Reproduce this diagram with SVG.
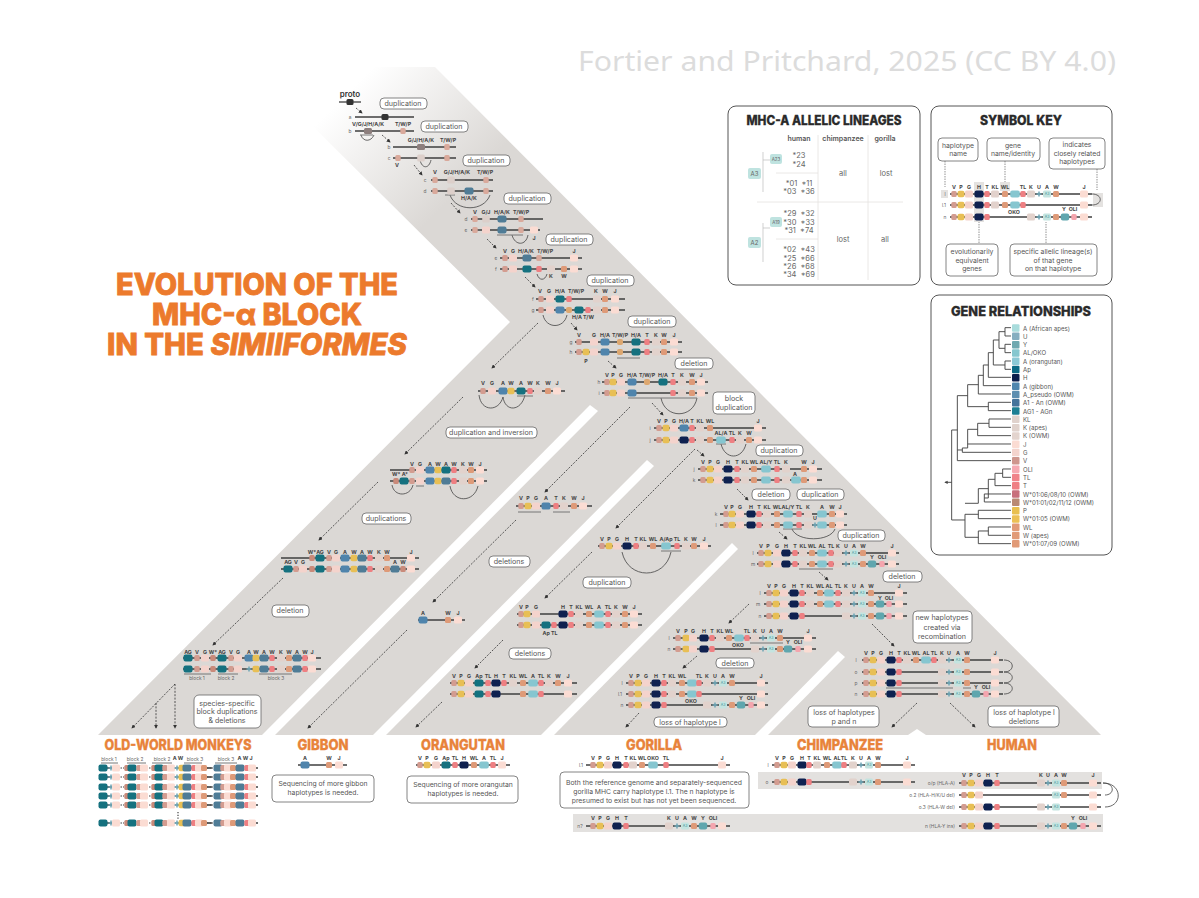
<svg xmlns="http://www.w3.org/2000/svg" width="1199" height="898" viewBox="0 0 1199 898">
<style>
text{font-family:Inter,"Liberation Sans",sans-serif}
.gl{font-size:5.3px;font-weight:700;fill:#444;text-anchor:middle}
.rl{font-size:4.800px;fill:#666;text-anchor:middle}
.pl{fill:#fff;stroke:#666;stroke-width:.8}
.pt{font-size:7.100px;fill:#555;text-anchor:middle}
.pt2{font-size:6.800px;fill:#555;text-anchor:middle}
.ln{stroke:#3f3f3f;stroke-width:1.300;fill:none}
.ar{stroke:#333;stroke-width:.8;stroke-dasharray:2 1.400;fill:none;marker-end:url(#ah)}
.arc{stroke:#444;stroke-width:.8;fill:none}
.bar{stroke:#777;stroke-width:1;fill:none}
.sec{font-size:14px;font-weight:800;fill:#e8833a;stroke:#e8833a;stroke-width:.35;text-anchor:middle}
.ttl{font-size:13px;font-weight:800;fill:#2a2a2a;stroke:#2a2a2a;stroke-width:.3;text-anchor:middle}
.pan{fill:#fff;stroke:#555;stroke-width:1}
.tb{font-size:7.500px;fill:#666;text-anchor:middle;white-space:pre}
.tbh{font-size:7px;font-weight:600;fill:#555;text-anchor:middle}
.grid{stroke:#e4e2e0;stroke-width:.8;fill:none}
.lg{font-size:6.100px;fill:#555}
.tr{stroke:#444;stroke-width:2.800;fill:none}
.main{font-size:29.500px;font-weight:800;fill:#ec7a2c;stroke:#ec7a2c;stroke-width:.8;text-anchor:middle}
</style>
<defs>
<linearGradient id="fade" gradientUnits="userSpaceOnUse" x1="270" y1="170" x2="375" y2="275"><stop offset="0" stop-color="#dbd8d5" stop-opacity="0"/><stop offset="1" stop-color="#dbd8d5"/></linearGradient>
<marker id="ah" markerWidth="5" markerHeight="5" refX="4" refY="2.500" orient="auto"><path d="M0 0L5 2.500L0 5z" fill="#333"/></marker>
<rect id="V" x="-2.700" y="-3" width="5.400" height="6" rx="1.500" fill="#d39c90"/>
<rect id="P" x="-3.500" y="-3.200" width="7" height="6.400" rx="2" fill="#e8bf55"/>
<rect id="G" x="-4" y="-3.500" width="8" height="7" rx="1.500" fill="#f4d3cc"/>
<rect id="H" x="-4.500" y="-3.500" width="9" height="7" rx="2" fill="#0f2150"/>
<rect id="T" x="-2.700" y="-3" width="5.400" height="6" rx="1.500" fill="#ee7f82"/>
<rect id="KL" x="-4" y="-3.500" width="8" height="7" rx="1.500" fill="#e2d2cc"/>
<rect id="W" x="-3" y="-3" width="6" height="6" rx="1.500" fill="#de9a78"/>
<rect id="AL" x="-4.800" y="-3.500" width="9.600" height="7" rx="2" fill="#86c6d0"/>
<rect id="J" x="-4" y="-3.500" width="8" height="7" rx="1.500" fill="#fbdcd3"/>
<rect id="Y" x="-4.200" y="-3.500" width="8.400" height="7" rx="2" fill="#5fa6ae"/>
<rect id="OL" x="-2.700" y="-3" width="5.400" height="6" rx="1.500" fill="#f4a5ae"/>
<rect id="B" x="-4.500" y="-3.500" width="9" height="7" rx="2" fill="#4f84ac"/>
<rect id="BD" x="-4.500" y="-3.500" width="9" height="7" rx="2" fill="#4f7c96"/>
<rect id="TE" x="-4.500" y="-3.500" width="9" height="7" rx="2" fill="#15717f"/>
<rect id="Q" x="-3" y="-3" width="6" height="6" rx="2" fill="#dda76f"/>
<rect id="D" x="-3.500" y="-3" width="7" height="6" rx="1.500" fill="#333"/>
<rect id="M" x="-4" y="-3" width="8" height="6" rx="1.500" fill="#8d7f7e"/>
<rect id="PA" x="-3.800" y="-3.500" width="7.600" height="7" rx="1.500" fill="#dccfca"/>
<rect id="Z" x="-2.700" y="-3" width="5.400" height="6" rx="1.500" fill="#d9a99b"/>
<rect id="R" x="-2.700" y="-3" width="5.400" height="6" rx="1.500" fill="#c98a7a"/>
<path id="U" d="M-2.500 0H2.500M0-2.500V2.500" stroke="#6ea4b4" stroke-width="1.500" fill="none"/>
<g id="A3"><rect x="-4" y="-3.500" width="8" height="7" rx="1.500" fill="#c3e4e0"/><text y="1.300" text-anchor="middle" font-size="3.500" fill="#3d8f97">A3</text></g>
<g id="owm"><path class="ln" d="M99 0H118M178 0H193M207 0H212M252 0H258" stroke-width="1"/><path d="M118 0H124M144 0H151M172 0H178M207 0H213" stroke="#3f3f3f" stroke-dasharray="1.500 1" fill="none"/><use href="#TE" x="103"/><use href="#U" x="111"/><use href="#J" x="116"/><use href="#R" x="127"/><use href="#TE" x="132"/><use href="#V" x="139"/><use href="#J" x="144"/><use href="#R" x="154"/><use href="#TE" x="159"/><use href="#V" x="165"/><use href="#J" x="171"/><use href="#U" x="177"/><use href="#P" x="182"/><use href="#BD" x="187"/><use href="#T" x="194"/><use href="#J" x="199"/><use href="#W" x="204"/><use href="#BD" x="218"/><use href="#V" x="223"/><use href="#J" x="228"/><use href="#W" x="233"/><use href="#BD" x="240"/><use href="#T" x="247"/><use href="#J" x="252"/></g>
</defs>
<rect width="1199" height="898" fill="#fff"/>

<g id="background">
<polygon points="253,67 435,67 1101,735 926,735 917,729 908,735 98,735 510,322" fill="url(#fade)"/>
<polygon points="262,735 275,735 598,411 590,405" fill="#fff"/>
<polygon points="373,735 386,735 654,466 647,460" fill="#fff"/>
<polygon points="541,735 554,735 738,549 732,543" fill="#fff"/>
<polygon points="755,735 768,735 845,657 838,651" fill="#fff"/>
<rect x="758" y="772" width="344" height="17" fill="#e3e1df"/>
<rect x="573" y="814" width="530" height="18" fill="#e3e1df"/>
</g>

<g id="credit"><text x="847" y="71" font-size="28" text-anchor="middle" fill="#dcdcdc" style="font-family:'Noto Sans',sans-serif" textLength="538" lengthAdjust="spacingAndGlyphs">Fortier and Pritchard, 2025 (CC BY 4.0)</text></g>
<g id="title">
<text class="main" x="257" y="295" textLength="282" lengthAdjust="spacingAndGlyphs">EVOLUTION OF THE</text>
<text class="main" x="257" y="325" textLength="210" lengthAdjust="spacingAndGlyphs">MHC-α BLOCK</text>
<text class="main" x="257" y="355" textLength="300" lengthAdjust="spacingAndGlyphs">IN THE <tspan font-style="italic">SIMIIFORMES</tspan></text>
</g>

<g id="connectors">
<path class="ar" d="M356 108L362 113"/><path class="ar" d="M382 135L390 142"/><path class="ar" d="M414 165L422 175"/><path class="ar" d="M451 203L460 213"/><path class="ar" d="M487 239L496 248"/><path class="ar" d="M525 277L535 287"/><path class="ar" d="M571 323L577 330"/><path class="ar" d="M608 361L616 368"/><path class="ar" d="M652 403L663 415"/><path class="ar" d="M697 450L704 456"/><path class="ar" d="M737 489L748 500"/><path class="ar" d="M779 532L787 539"/><path class="ar" d="M819 572L828 580"/><path class="ar" d="M749 604L729 623"/><path class="ar" d="M697 656L683 668"/><path class="ar" d="M639 713L626 727"/><path class="ar" d="M872 624L894 646"/><path class="ar" d="M917 703L892 727"/><path class="ar" d="M950 703L975 727"/>
<path class="ar" d="M538 323L492 368"/><path class="ar" d="M463 397L405 454"/><path class="ar" d="M378 482L319 540"/><path class="ar" d="M283 578L213 645"/><path class="ar" d="M175 684L132 728"/><path class="ar" d="M156 703V728"/><path class="ar" d="M175 684V728"/>
<path class="ar" d="M630 407L545 492"/><path class="ar" d="M516 520L433 602"/><path class="ar" d="M407 630L308 728"/><path class="ar" d="M695 449L616 528"/><path class="ar" d="M592 552L545 598"/><path class="ar" d="M503 640L475 668"/><path class="ar" d="M442 702L416 727"/>
<path class="arc" d="M361 135c2 7 10 7 13 0M420 160c2 9 9 9 11 0M450 195c6 17 34 17 40 0M512 235c3 11 14 11 16 0M537 274c2 7 8 7 10 0M543 315c3 14 21 14 24 0M661 398c4 21 32 21 36 0M721 444c4 16 21 16 25 0M792 529c5 13 38 13 43 0M622 552c6 28 43 28 49 0M479 395c2 17 20 17 24 2M503 397c2 15 18 15 22-2M392 485c2 12 18 12 21 0M450 486c3 17 24 17 28 0"/>
<path class="bar" d="M360 135H373M445 195H455M497 235H523M628 398H697M617 358H640M716 444H726M783 529H802M661 551H681M518 512H541M553 512H570M799 569H833M750 643H783M886 688H953M963 688H971M184 674H211M218 674H238M259 674H292M517 396H533M416 486H424"/>
<path class="arc" d="M1004 660c11 0 11 12 0 12M1004 672c11 0 11 11 0 11M1004 683c11 0 11 11 0 11M1103 783c12 0 12 12 2 12M1103 783c20 0 20 24 2 24"/>
</g>

<g id="s-proto"><text x="350" y="97" font-size="8" font-weight="600" fill="#333" text-anchor="middle">proto</text><path class="ln" d="M339 102H361"/><use href="#D" x="350" y="102"/></g>
<g id="s-ab"><text class="rl" x="350" y="119">a</text><text class="rl" x="350" y="133">b</text><path class="ln" d="M355 117H414M355 131H414"/><use href="#D" x="385" y="117"/><use href="#M" x="368" y="131"/><use href="#Z" x="403" y="131"/><text class="gl" x="368" y="126">V/G/J/H/A/K</text><text class="gl" x="403" y="126">T/W/P</text></g>
<g id="s-bc"><text class="rl" x="389" y="149">b</text><text class="rl" x="389" y="160">c</text><path class="ln" d="M393 147H456M393 158H456"/><use href="#M" x="421" y="147"/><use href="#Z" x="447" y="147"/><use href="#Z" x="398" y="158"/><use href="#PA" x="421" y="158"/><use href="#Z" x="447" y="158"/><text class="gl" x="421" y="142">G/J/H/A/K</text><text class="gl" x="448" y="142">T/W/P</text><text class="gl" x="397" y="167">V</text></g>
<g id="s-cd"><text class="rl" x="425" y="182">c</text><text class="rl" x="425" y="193">d</text><path class="ln" d="M431 180H493M431 191H493"/><use href="#Z" x="435" y="180"/><use href="#PA" x="451" y="180"/><use href="#Z" x="486" y="180"/><use href="#Z" x="435" y="191"/><use href="#PA" x="451" y="191"/><use href="#BD" x="469" y="191"/><use href="#Z" x="486" y="191"/><text class="gl" x="435" y="174">V</text><text class="gl" x="457" y="174">G/J/H/A/K</text><text class="gl" x="485" y="174">T/W/P</text><text class="gl" x="469" y="200">H/A/K</text></g>
<g id="s-de"><text class="rl" x="466" y="221">d</text><text class="rl" x="466" y="232">e</text><path class="ln" d="M471 219H543M471 230H540"/><use href="#Z" x="475" y="219"/><use href="#PA" x="486" y="219"/><use href="#BD" x="502" y="219"/><use href="#Z" x="521" y="219"/><use href="#Z" x="475" y="230"/><use href="#G" x="486" y="230"/><use href="#BD" x="502" y="230"/><use href="#Z" x="521" y="230"/><use href="#J" x="534" y="230"/><text class="gl" x="475" y="214">V</text><text class="gl" x="486" y="214">G/J</text><text class="gl" x="502" y="214">H/A/K</text><text class="gl" x="521" y="214">T/W/P</text><text class="gl" x="534" y="240">J</text></g>
<g id="s-ef"><text class="rl" x="496" y="260">e</text><text class="rl" x="496" y="271">f</text><path class="ln" d="M500 258H582M500 269H582"/><use href="#V" x="505" y="258"/><use href="#G" x="513" y="258"/><use href="#BD" x="527" y="258"/><use href="#Z" x="539" y="258"/><use href="#J" x="574" y="258"/><use href="#V" x="505" y="269"/><use href="#G" x="513" y="269"/><use href="#TE" x="527" y="269"/><use href="#T" x="539" y="269"/><use href="#KL" x="551" y="269"/><use href="#W" x="564" y="269"/><use href="#J" x="574" y="269"/><text class="gl" x="505" y="253">V</text><text class="gl" x="513" y="253">G</text><text class="gl" x="526" y="253">H/A/K</text><text class="gl" x="545" y="253">T/W/P</text><text class="gl" x="574" y="253">J</text><text class="gl" x="551" y="278">K</text><text class="gl" x="564" y="278">W</text></g>
<g id="s-fg"><text class="rl" x="533" y="301">f</text><text class="rl" x="533" y="312">g</text><path class="ln" d="M536 299H625M536 310H625"/><use href="#V" x="541" y="299"/><use href="#G" x="550" y="299"/><use href="#TE" x="560" y="299"/><use href="#T" x="569" y="299"/><use href="#KL" x="597" y="299"/><use href="#W" x="605" y="299"/><use href="#J" x="615" y="299"/><use href="#V" x="541" y="310"/><use href="#G" x="550" y="310"/><use href="#B" x="560" y="310"/><use href="#Q" x="569" y="310"/><use href="#TE" x="579" y="310"/><use href="#T" x="588" y="310"/><use href="#KL" x="597" y="310"/><use href="#W" x="605" y="310"/><use href="#J" x="615" y="310"/><text class="gl" x="540" y="293">V</text><text class="gl" x="549" y="293">G</text><text class="gl" x="560" y="293">H/A</text><text class="gl" x="576" y="293">T/W/P</text><text class="gl" x="596" y="293">K</text><text class="gl" x="605" y="293">W</text><text class="gl" x="615" y="293">J</text><text class="gl" x="583" y="319">H/A T/W</text></g>
<g id="s-gh"><text class="rl" x="571" y="344">g</text><text class="rl" x="571" y="354">h</text><path class="ln" d="M575 342H682M575 352H682"/><use href="#V" x="579" y="342"/><use href="#G" x="594" y="342"/><use href="#B" x="605" y="342"/><use href="#Q" x="620" y="342"/><use href="#TE" x="636" y="342"/><use href="#T" x="647" y="342"/><use href="#KL" x="656" y="342"/><use href="#W" x="664" y="342"/><use href="#J" x="674" y="342"/><use href="#V" x="579" y="352"/><use href="#P" x="586" y="352"/><use href="#G" x="594" y="352"/><use href="#B" x="605" y="352"/><use href="#Q" x="620" y="352"/><use href="#TE" x="636" y="352"/><use href="#T" x="647" y="352"/><use href="#KL" x="656" y="352"/><use href="#W" x="664" y="352"/><use href="#J" x="674" y="352"/><text class="gl" x="579" y="337">V</text><text class="gl" x="594" y="337">G</text><text class="gl" x="605" y="337">H/A</text><text class="gl" x="620" y="337">T/W/P</text><text class="gl" x="636" y="337">H/A</text><text class="gl" x="647" y="337">T</text><text class="gl" x="656" y="337">K</text><text class="gl" x="664" y="337">W</text><text class="gl" x="674" y="337">J</text><text class="gl" x="586" y="363">P</text></g>
<g id="s-hi"><text class="rl" x="599" y="384">h</text><text class="rl" x="599" y="395">i</text><path class="ln" d="M602 382H708M602 393H708"/><use href="#V" x="607" y="382"/><use href="#P" x="613" y="382"/><use href="#G" x="621" y="382"/><use href="#B" x="632" y="382"/><use href="#Q" x="647" y="382"/><use href="#TE" x="663" y="382"/><use href="#T" x="673" y="382"/><use href="#KL" x="682" y="382"/><use href="#W" x="692" y="382"/><use href="#J" x="701" y="382"/><use href="#V" x="607" y="393"/><use href="#P" x="613" y="393"/><use href="#G" x="621" y="393"/><use href="#B" x="632" y="393"/><use href="#T" x="673" y="393"/><use href="#KL" x="682" y="393"/><use href="#W" x="692" y="393"/><use href="#J" x="701" y="393"/><text class="gl" x="607" y="377">V</text><text class="gl" x="613" y="377">P</text><text class="gl" x="621" y="377">G</text><text class="gl" x="632" y="377">H/A</text><text class="gl" x="647" y="377">T/W/P</text><text class="gl" x="663" y="377">H/A</text><text class="gl" x="673" y="377">T</text><text class="gl" x="682" y="377">K</text><text class="gl" x="692" y="377">W</text><text class="gl" x="701" y="377">J</text></g>
<g id="s-ij"><text class="rl" x="650" y="430">i</text><text class="rl" x="650" y="442">j</text><path class="ln" d="M654 428H766M654 440H766"/><use href="#V" x="659" y="428"/><use href="#P" x="666" y="428"/><use href="#G" x="674" y="428"/><use href="#B" x="684" y="428"/><use href="#T" x="692" y="428"/><use href="#KL" x="700" y="428"/><use href="#W" x="710" y="428"/><use href="#J" x="758" y="428"/><use href="#V" x="659" y="440"/><use href="#P" x="666" y="440"/><use href="#G" x="674" y="440"/><use href="#H" x="684" y="440"/><use href="#T" x="692" y="440"/><use href="#KL" x="700" y="440"/><use href="#W" x="710" y="440"/><use href="#AL" x="721" y="440"/><use href="#T" x="732" y="440"/><use href="#KL" x="740" y="440"/><use href="#W" x="749" y="440"/><use href="#J" x="758" y="440"/><text class="gl" x="659" y="423">V</text><text class="gl" x="666" y="423">P</text><text class="gl" x="674" y="423">G</text><text class="gl" x="684" y="423">H/A</text><text class="gl" x="692" y="423">T</text><text class="gl" x="700" y="423">KL</text><text class="gl" x="710" y="423">WL</text><text class="gl" x="758" y="423">J</text><text class="gl" x="721" y="435">AL/A</text><text class="gl" x="732" y="435">TL</text><text class="gl" x="740" y="435">K</text><text class="gl" x="749" y="435">W</text></g>
<g id="s-jk"><text class="rl" x="694" y="471">j</text><text class="rl" x="694" y="482">k</text><path class="ln" d="M698 469H822M698 480H822"/><use href="#V" x="703" y="469"/><use href="#P" x="710" y="469"/><use href="#G" x="718" y="469"/><use href="#H" x="728" y="469"/><use href="#T" x="737" y="469"/><use href="#KL" x="745" y="469"/><use href="#W" x="754" y="469"/><use href="#AL" x="766" y="469"/><use href="#T" x="777" y="469"/><use href="#KL" x="786" y="469"/><use href="#W" x="804" y="469"/><use href="#J" x="813" y="469"/><use href="#V" x="703" y="480"/><use href="#P" x="710" y="480"/><use href="#G" x="718" y="480"/><use href="#H" x="728" y="480"/><use href="#T" x="737" y="480"/><use href="#KL" x="745" y="480"/><use href="#W" x="754" y="480"/><use href="#AL" x="766" y="480"/><use href="#T" x="777" y="480"/><use href="#KL" x="786" y="480"/><use href="#AL" x="796" y="480"/><use href="#W" x="804" y="480"/><use href="#J" x="813" y="480"/><text class="gl" x="703" y="464">V</text><text class="gl" x="710" y="464">P</text><text class="gl" x="718" y="464">G</text><text class="gl" x="728" y="464">H</text><text class="gl" x="737" y="464">T</text><text class="gl" x="745" y="464">KL</text><text class="gl" x="754" y="464">WL</text><text class="gl" x="766" y="464">AL/Y</text><text class="gl" x="777" y="464">TL</text><text class="gl" x="786" y="464">K</text><text class="gl" x="804" y="464">W</text><text class="gl" x="813" y="464">J</text><text class="gl" x="795" y="476">A</text></g>
<g id="s-kl"><text class="rl" x="716" y="516">k</text><text class="rl" x="716" y="527">l</text><path class="ln" d="M720 514H847M720 525H847"/><use href="#V" x="726" y="514"/><use href="#P" x="732" y="514"/><use href="#G" x="740" y="514"/><use href="#H" x="751" y="514"/><use href="#T" x="759" y="514"/><use href="#KL" x="767" y="514"/><use href="#W" x="777" y="514"/><use href="#AL" x="788" y="514"/><use href="#T" x="799" y="514"/><use href="#KL" x="808" y="514"/><use href="#AL" x="822" y="514"/><use href="#W" x="832" y="514"/><use href="#J" x="840" y="514"/><use href="#V" x="726" y="525"/><use href="#P" x="732" y="525"/><use href="#G" x="740" y="525"/><use href="#H" x="751" y="525"/><use href="#T" x="759" y="525"/><use href="#KL" x="767" y="525"/><use href="#W" x="777" y="525"/><use href="#AL" x="788" y="525"/><use href="#T" x="799" y="525"/><use href="#KL" x="808" y="525"/><use href="#U" x="815" y="525"/><use href="#AL" x="822" y="525"/><use href="#W" x="832" y="525"/><use href="#J" x="840" y="525"/><text class="gl" x="726" y="509">V</text><text class="gl" x="732" y="509">P</text><text class="gl" x="740" y="509">G</text><text class="gl" x="751" y="509">H</text><text class="gl" x="759" y="509">T</text><text class="gl" x="767" y="509">KL</text><text class="gl" x="777" y="509">WL</text><text class="gl" x="788" y="509">AL/Y</text><text class="gl" x="799" y="509">TL</text><text class="gl" x="808" y="509">K</text><text class="gl" x="822" y="509">A</text><text class="gl" x="832" y="509">W</text><text class="gl" x="840" y="509">J</text><text class="gl" x="815" y="520">U</text></g>
<g id="s-lm"><text class="rl" x="753" y="555">l</text><text class="rl" x="753" y="566">m</text><path class="ln" d="M757 553H899M757 564H899"/><use href="#V" x="761" y="553"/><use href="#P" x="768" y="553"/><use href="#G" x="777" y="553"/><use href="#H" x="786" y="553"/><use href="#T" x="795" y="553"/><use href="#KL" x="803" y="553"/><use href="#W" x="812" y="553"/><use href="#AL" x="822" y="553"/><use href="#T" x="831" y="553"/><use href="#KL" x="838" y="553"/><use href="#U" x="846" y="553"/><use href="#A3" x="854" y="553"/><use href="#W" x="863" y="553"/><use href="#J" x="892" y="553"/><use href="#V" x="761" y="564"/><use href="#P" x="768" y="564"/><use href="#G" x="777" y="564"/><use href="#H" x="786" y="564"/><use href="#T" x="795" y="564"/><use href="#KL" x="803" y="564"/><use href="#W" x="812" y="564"/><use href="#AL" x="822" y="564"/><use href="#T" x="831" y="564"/><use href="#KL" x="838" y="564"/><use href="#U" x="846" y="564"/><use href="#A3" x="854" y="564"/><use href="#W" x="863" y="564"/><use href="#Y" x="872" y="564"/><use href="#OL" x="882" y="564"/><use href="#J" x="892" y="564"/><text class="gl" x="761" y="548">V</text><text class="gl" x="768" y="548">P</text><text class="gl" x="777" y="548">G</text><text class="gl" x="786" y="548">H</text><text class="gl" x="795" y="548">T</text><text class="gl" x="803" y="548">KL</text><text class="gl" x="812" y="548">WL</text><text class="gl" x="822" y="548">AL</text><text class="gl" x="831" y="548">TL</text><text class="gl" x="838" y="548">K</text><text class="gl" x="846" y="548">U</text><text class="gl" x="854" y="548">A</text><text class="gl" x="863" y="548">W</text><text class="gl" x="892" y="548">J</text><text class="gl" x="872" y="559">Y</text><text class="gl" x="882" y="559">OLI</text></g>
<g id="s-lmn"><text class="rl" x="760" y="595">l</text><text class="rl" x="758" y="606">m</text><text class="rl" x="760" y="618">n</text><path class="ln" d="M764 593H907M764 604H907M764 616H907"/><use href="#V" x="769" y="593"/><use href="#P" x="776" y="593"/><use href="#G" x="784" y="593"/><use href="#H" x="794" y="593"/><use href="#T" x="802" y="593"/><use href="#KL" x="810" y="593"/><use href="#W" x="820" y="593"/><use href="#AL" x="829" y="593"/><use href="#T" x="838" y="593"/><use href="#KL" x="846" y="593"/><use href="#U" x="854" y="593"/><use href="#A3" x="862" y="593"/><use href="#W" x="871" y="593"/><use href="#J" x="899" y="593"/><use href="#V" x="769" y="604"/><use href="#P" x="776" y="604"/><use href="#G" x="784" y="604"/><use href="#H" x="794" y="604"/><use href="#T" x="802" y="604"/><use href="#KL" x="810" y="604"/><use href="#W" x="820" y="604"/><use href="#AL" x="829" y="604"/><use href="#T" x="838" y="604"/><use href="#KL" x="846" y="604"/><use href="#U" x="854" y="604"/><use href="#A3" x="862" y="604"/><use href="#W" x="871" y="604"/><use href="#Y" x="880" y="604"/><use href="#OL" x="889" y="604"/><use href="#J" x="899" y="604"/><use href="#V" x="769" y="616"/><use href="#P" x="776" y="616"/><use href="#G" x="784" y="616"/><use href="#H" x="794" y="616"/><use href="#T" x="802" y="616"/><use href="#KL" x="846" y="616"/><use href="#U" x="854" y="616"/><use href="#A3" x="862" y="616"/><use href="#W" x="871" y="616"/><use href="#Y" x="880" y="616"/><use href="#OL" x="889" y="616"/><use href="#J" x="899" y="616"/><text class="gl" x="769" y="588">V</text><text class="gl" x="776" y="588">P</text><text class="gl" x="784" y="588">G</text><text class="gl" x="794" y="588">H</text><text class="gl" x="802" y="588">T</text><text class="gl" x="810" y="588">KL</text><text class="gl" x="820" y="588">WL</text><text class="gl" x="829" y="588">AL</text><text class="gl" x="838" y="588">TL</text><text class="gl" x="846" y="588">K</text><text class="gl" x="854" y="588">U</text><text class="gl" x="862" y="588">A</text><text class="gl" x="871" y="588">W</text><text class="gl" x="899" y="588">J</text><text class="gl" x="880" y="600">Y</text><text class="gl" x="889" y="600">OLI</text></g>
<g id="s-ln"><text class="rl" x="669" y="640">l</text><text class="rl" x="669" y="651">n</text><path class="ln" d="M673 638H816M673 649H816"/><use href="#V" x="678" y="638"/><use href="#P" x="686" y="638"/><use href="#G" x="693" y="638"/><use href="#H" x="704" y="638"/><use href="#T" x="712" y="638"/><use href="#KL" x="720" y="638"/><use href="#W" x="729" y="638"/><use href="#AL" x="739" y="638"/><use href="#T" x="747" y="638"/><use href="#KL" x="755" y="638"/><use href="#U" x="763" y="638"/><use href="#A3" x="771" y="638"/><use href="#W" x="780" y="638"/><use href="#J" x="808" y="638"/><use href="#V" x="678" y="649"/><use href="#P" x="686" y="649"/><use href="#G" x="693" y="649"/><use href="#H" x="704" y="649"/><use href="#T" x="712" y="649"/><use href="#KL" x="755" y="649"/><use href="#U" x="763" y="649"/><use href="#A3" x="771" y="649"/><use href="#W" x="780" y="649"/><use href="#Y" x="788" y="649"/><use href="#OL" x="798" y="649"/><use href="#J" x="808" y="649"/><text class="gl" x="678" y="633">V</text><text class="gl" x="686" y="633">P</text><text class="gl" x="693" y="633">G</text><text class="gl" x="704" y="633">H</text><text class="gl" x="712" y="633">T</text><text class="gl" x="720" y="633">KL</text><text class="gl" x="729" y="633">WL</text><text class="gl" x="747" y="633">TL</text><text class="gl" x="755" y="633">K</text><text class="gl" x="763" y="633">U</text><text class="gl" x="771" y="633">A</text><text class="gl" x="780" y="633">W</text><text class="gl" x="808" y="633">J</text><text class="gl" x="738" y="647">OKO</text><text class="gl" x="788" y="644">Y</text><text class="gl" x="798" y="644">OLI</text></g>
<g id="s-gor"><text class="rl" x="622" y="685">l</text><text class="rl" x="620" y="696">l.1</text><text class="rl" x="622" y="707">n</text><path class="ln" d="M626 683H768M626 694H768M626 705H768"/><use href="#V" x="631" y="683"/><use href="#P" x="638" y="683"/><use href="#G" x="646" y="683"/><use href="#H" x="656" y="683"/><use href="#T" x="664" y="683"/><use href="#KL" x="672" y="683"/><use href="#W" x="682" y="683"/><use href="#AL" x="692" y="683"/><use href="#T" x="699" y="683"/><use href="#KL" x="707" y="683"/><use href="#U" x="715" y="683"/><use href="#A3" x="723" y="683"/><use href="#W" x="732" y="683"/><use href="#J" x="761" y="683"/><use href="#V" x="631" y="694"/><use href="#P" x="638" y="694"/><use href="#G" x="646" y="694"/><use href="#H" x="656" y="694"/><use href="#T" x="664" y="694"/><use href="#KL" x="672" y="694"/><use href="#W" x="682" y="694"/><use href="#AL" x="692" y="694"/><use href="#T" x="699" y="694"/><use href="#J" x="761" y="694"/><use href="#V" x="631" y="705"/><use href="#P" x="638" y="705"/><use href="#G" x="646" y="705"/><use href="#H" x="656" y="705"/><use href="#T" x="664" y="705"/><use href="#KL" x="707" y="705"/><use href="#U" x="715" y="705"/><use href="#A3" x="723" y="705"/><use href="#W" x="732" y="705"/><use href="#Y" x="741" y="705"/><use href="#OL" x="751" y="705"/><use href="#J" x="761" y="705"/><text class="gl" x="631" y="678">V</text><text class="gl" x="638" y="678">P</text><text class="gl" x="646" y="678">G</text><text class="gl" x="656" y="678">H</text><text class="gl" x="664" y="678">T</text><text class="gl" x="672" y="678">KL</text><text class="gl" x="682" y="678">WL</text><text class="gl" x="699" y="678">TL</text><text class="gl" x="707" y="678">K</text><text class="gl" x="715" y="678">U</text><text class="gl" x="723" y="678">A</text><text class="gl" x="732" y="678">W</text><text class="gl" x="761" y="678">J</text><text class="gl" x="691" y="703">OKO</text><text class="gl" x="741" y="700">Y</text><text class="gl" x="751" y="700">OLI</text></g>
<g id="s-hum"><text class="rl" x="856" y="662">l</text><text class="rl" x="856" y="674">o</text><text class="rl" x="856" y="685">p</text><text class="rl" x="856" y="696">n</text><path class="ln" d="M862 660H1003M862 672H1003M862 683H1003M862 694H1003"/><use href="#V" x="866" y="660"/><use href="#P" x="873" y="660"/><use href="#G" x="881" y="660"/><use href="#H" x="891" y="660"/><use href="#T" x="899" y="660"/><use href="#KL" x="907" y="660"/><use href="#W" x="916" y="660"/><use href="#AL" x="926" y="660"/><use href="#T" x="934" y="660"/><use href="#KL" x="942" y="660"/><use href="#U" x="949" y="660"/><use href="#A3" x="958" y="660"/><use href="#W" x="967" y="660"/><use href="#J" x="995" y="660"/><use href="#V" x="866" y="672"/><use href="#P" x="873" y="672"/><use href="#G" x="881" y="672"/><use href="#H" x="891" y="672"/><use href="#T" x="899" y="672"/><use href="#KL" x="942" y="672"/><use href="#U" x="949" y="672"/><use href="#A3" x="958" y="672"/><use href="#W" x="967" y="672"/><use href="#J" x="995" y="672"/><use href="#V" x="866" y="683"/><use href="#P" x="873" y="683"/><use href="#G" x="881" y="683"/><use href="#H" x="891" y="683"/><use href="#T" x="899" y="683"/><use href="#KL" x="942" y="683"/><use href="#U" x="949" y="683"/><use href="#A3" x="958" y="683"/><use href="#W" x="967" y="683"/><use href="#J" x="995" y="683"/><use href="#V" x="866" y="694"/><use href="#P" x="873" y="694"/><use href="#G" x="881" y="694"/><use href="#H" x="891" y="694"/><use href="#T" x="899" y="694"/><use href="#KL" x="942" y="694"/><use href="#U" x="949" y="694"/><use href="#A3" x="958" y="694"/><use href="#W" x="967" y="694"/><use href="#Y" x="976" y="694"/><use href="#OL" x="986" y="694"/><use href="#J" x="995" y="694"/><text class="gl" x="866" y="655">V</text><text class="gl" x="873" y="655">P</text><text class="gl" x="881" y="655">G</text><text class="gl" x="891" y="655">H</text><text class="gl" x="899" y="655">T</text><text class="gl" x="907" y="655">KL</text><text class="gl" x="916" y="655">WL</text><text class="gl" x="926" y="655">AL</text><text class="gl" x="934" y="655">TL</text><text class="gl" x="942" y="655">K</text><text class="gl" x="949" y="655">U</text><text class="gl" x="958" y="655">A</text><text class="gl" x="967" y="655">W</text><text class="gl" x="995" y="655">J</text><text class="gl" x="976" y="689">Y</text><text class="gl" x="986" y="689">OLI</text></g>

<g id="s-left1"><path class="ln" d="M478 391H565"/><use href="#V" x="483" y="391"/><use href="#G" x="492" y="391"/><use href="#B" x="503" y="391"/><use href="#P" x="511" y="391"/><use href="#TE" x="521" y="391"/><use href="#T" x="530" y="391"/><use href="#KL" x="538" y="391"/><use href="#W" x="548" y="391"/><use href="#J" x="557" y="391"/><text class="gl" x="483" y="385">V</text><text class="gl" x="492" y="385">G</text><text class="gl" x="503" y="385">A</text><text class="gl" x="511" y="385">W</text><text class="gl" x="521" y="385">A</text><text class="gl" x="530" y="385">W</text><text class="gl" x="538" y="385">K</text><text class="gl" x="548" y="385">W</text><text class="gl" x="557" y="385">J</text></g>
<g id="s-left2"><path class="ln" d="M390 470H412M390 481H487M412 470H487"/><use href="#V" x="412" y="470"/><use href="#G" x="420" y="470"/><use href="#B" x="430" y="470"/><use href="#P" x="438" y="470"/><use href="#TE" x="446" y="470"/><use href="#T" x="454" y="470"/><use href="#KL" x="463" y="470"/><use href="#W" x="471" y="470"/><use href="#J" x="480" y="470"/><use href="#R" x="396" y="481"/><use href="#TE" x="404" y="481"/><use href="#V" x="412" y="481"/><use href="#G" x="420" y="481"/><use href="#B" x="430" y="481"/><use href="#P" x="438" y="481"/><use href="#BD" x="446" y="481"/><use href="#T" x="454" y="481"/><use href="#KL" x="463" y="481"/><use href="#W" x="471" y="481"/><use href="#J" x="480" y="481"/><text class="gl" x="412" y="466">V</text><text class="gl" x="420" y="466">G</text><text class="gl" x="430" y="466">A</text><text class="gl" x="438" y="466">W</text><text class="gl" x="446" y="466">A</text><text class="gl" x="454" y="466">W</text><text class="gl" x="463" y="466">K</text><text class="gl" x="471" y="466">W</text><text class="gl" x="480" y="466">J</text><text class="gl" x="400" y="476">W* A*</text></g>
<g id="s-left3"><path class="ln" d="M281 558H419M281 569H419"/><use href="#R" x="312" y="558"/><use href="#TE" x="320" y="558"/><use href="#V" x="329" y="558"/><use href="#G" x="336" y="558"/><use href="#B" x="345" y="558"/><use href="#P" x="354" y="558"/><use href="#BD" x="362" y="558"/><use href="#T" x="370" y="558"/><use href="#KL" x="379" y="558"/><use href="#W" x="387" y="558"/><use href="#J" x="411" y="558"/><use href="#TE" x="288" y="569"/><use href="#V" x="296" y="569"/><use href="#G" x="303" y="569"/><use href="#R" x="312" y="569"/><use href="#TE" x="320" y="569"/><use href="#V" x="329" y="569"/><use href="#G" x="336" y="569"/><use href="#B" x="345" y="569"/><use href="#P" x="354" y="569"/><use href="#BD" x="362" y="569"/><use href="#T" x="370" y="569"/><use href="#KL" x="379" y="569"/><use href="#W" x="387" y="569"/><use href="#BD" x="395" y="569"/><use href="#R" x="403" y="569"/><use href="#J" x="411" y="569"/><text class="gl" x="312" y="554">W*</text><text class="gl" x="320" y="554">AG</text><text class="gl" x="329" y="554">V</text><text class="gl" x="336" y="554">G</text><text class="gl" x="345" y="554">A</text><text class="gl" x="354" y="554">W</text><text class="gl" x="362" y="554">A</text><text class="gl" x="370" y="554">W</text><text class="gl" x="379" y="554">K</text><text class="gl" x="387" y="554">W</text><text class="gl" x="411" y="554">J</text><text class="gl" x="288" y="564">AG</text><text class="gl" x="296" y="564">V</text><text class="gl" x="303" y="564">G</text><text class="gl" x="395" y="564">A</text><text class="gl" x="403" y="564">W</text></g>
<g id="s-left4"><path class="ln" d="M183 658H321M183 669H321"/><use href="#TE" x="188" y="658"/><use href="#V" x="197" y="658"/><use href="#G" x="205" y="658"/><use href="#R" x="213" y="658"/><use href="#TE" x="222" y="658"/><use href="#V" x="231" y="658"/><use href="#G" x="238" y="658"/><use href="#B" x="249" y="658"/><use href="#P" x="256" y="658"/><use href="#BD" x="264" y="658"/><use href="#T" x="272" y="658"/><use href="#KL" x="281" y="658"/><use href="#W" x="289" y="658"/><use href="#BD" x="297" y="658"/><use href="#T" x="305" y="658"/><use href="#J" x="312" y="658"/><use href="#TE" x="188" y="669"/><use href="#V" x="197" y="669"/><use href="#G" x="205" y="669"/><use href="#R" x="213" y="669"/><use href="#TE" x="222" y="669"/><use href="#V" x="231" y="669"/><use href="#G" x="238" y="669"/><use href="#U" x="249" y="669"/><use href="#P" x="256" y="669"/><use href="#BD" x="264" y="669"/><use href="#T" x="272" y="669"/><use href="#KL" x="281" y="669"/><use href="#W" x="289" y="669"/><use href="#BD" x="297" y="669"/><use href="#T" x="305" y="669"/><use href="#J" x="312" y="669"/><text class="gl" x="188" y="654">AG</text><text class="gl" x="197" y="654">V</text><text class="gl" x="205" y="654">G</text><text class="gl" x="213" y="654">W*</text><text class="gl" x="222" y="654">AG</text><text class="gl" x="231" y="654">V</text><text class="gl" x="238" y="654">G</text><text class="gl" x="249" y="654">A</text><text class="gl" x="256" y="654">W</text><text class="gl" x="264" y="654">A</text><text class="gl" x="272" y="654">W</text><text class="gl" x="281" y="654">K</text><text class="gl" x="289" y="654">W</text><text class="gl" x="297" y="654">A</text><text class="gl" x="305" y="654">W</text><text class="gl" x="312" y="654">J</text><text class="rl" x="197" y="680">block 1</text><text class="rl" x="226" y="680">block 2</text><text class="rl" x="276" y="680">block 3</text></g>

<g id="s-mid1"><path class="ln" d="M516 506H592"/><use href="#V" x="521" y="506"/><use href="#P" x="528" y="506"/><use href="#G" x="536" y="506"/><use href="#B" x="546" y="506"/><use href="#T" x="556" y="506"/><use href="#KL" x="564" y="506"/><use href="#W" x="574" y="506"/><use href="#J" x="583" y="506"/><text class="gl" x="521" y="500">V</text><text class="gl" x="528" y="500">P</text><text class="gl" x="536" y="500">G</text><text class="gl" x="546" y="500">A</text><text class="gl" x="556" y="500">T</text><text class="gl" x="564" y="500">K</text><text class="gl" x="574" y="500">W</text><text class="gl" x="583" y="500">J</text></g>
<g id="s-mid2"><path class="ln" d="M418 620H465"/><use href="#B" x="423" y="620"/><use href="#W" x="448" y="620"/><use href="#J" x="458" y="620"/><text class="gl" x="423" y="615">A</text><text class="gl" x="448" y="615">W</text><text class="gl" x="458" y="615">J</text></g>
<g id="s-o1"><path class="ln" d="M598 546H711"/><use href="#V" x="602" y="546"/><use href="#P" x="609" y="546"/><use href="#G" x="617" y="546"/><use href="#H" x="627" y="546"/><use href="#T" x="636" y="546"/><use href="#KL" x="643" y="546"/><use href="#W" x="653" y="546"/><use href="#AL" x="666" y="546"/><use href="#T" x="677" y="546"/><use href="#KL" x="686" y="546"/><use href="#W" x="694" y="546"/><use href="#J" x="704" y="546"/><text class="gl" x="602" y="541">V</text><text class="gl" x="609" y="541">P</text><text class="gl" x="617" y="541">G</text><text class="gl" x="627" y="541">H</text><text class="gl" x="636" y="541">T</text><text class="gl" x="643" y="541">KL</text><text class="gl" x="653" y="541">WL</text><text class="gl" x="666" y="541">A/Ap</text><text class="gl" x="677" y="541">TL</text><text class="gl" x="686" y="541">K</text><text class="gl" x="694" y="541">W</text><text class="gl" x="704" y="541">J</text></g>
<g id="s-o2"><path class="ln" d="M517 614H642M517 625H642"/><use href="#V" x="521" y="614"/><use href="#P" x="527" y="614"/><use href="#G" x="536" y="614"/><use href="#H" x="563" y="614"/><use href="#T" x="571" y="614"/><use href="#KL" x="579" y="614"/><use href="#W" x="589" y="614"/><use href="#AL" x="599" y="614"/><use href="#T" x="608" y="614"/><use href="#KL" x="616" y="614"/><use href="#W" x="625" y="614"/><use href="#J" x="634" y="614"/><use href="#V" x="521" y="625"/><use href="#P" x="527" y="625"/><use href="#G" x="536" y="625"/><use href="#TE" x="546" y="625"/><use href="#T" x="554" y="625"/><use href="#H" x="563" y="625"/><use href="#T" x="571" y="625"/><use href="#KL" x="579" y="625"/><use href="#W" x="589" y="625"/><use href="#AL" x="599" y="625"/><use href="#T" x="608" y="625"/><use href="#KL" x="616" y="625"/><use href="#W" x="625" y="625"/><use href="#J" x="634" y="625"/><text class="gl" x="521" y="609">V</text><text class="gl" x="527" y="609">P</text><text class="gl" x="536" y="609">G</text><text class="gl" x="563" y="609">H</text><text class="gl" x="571" y="609">T</text><text class="gl" x="579" y="609">KL</text><text class="gl" x="589" y="609">WL</text><text class="gl" x="599" y="609">A</text><text class="gl" x="608" y="609">TL</text><text class="gl" x="616" y="609">K</text><text class="gl" x="625" y="609">W</text><text class="gl" x="634" y="609">J</text><text class="gl" x="550" y="635">Ap TL</text></g>
<g id="s-o3"><path class="ln" d="M450 683H577M450 694H577"/><use href="#V" x="454" y="683"/><use href="#P" x="461" y="683"/><use href="#G" x="469" y="683"/><use href="#TE" x="479" y="683"/><use href="#T" x="488" y="683"/><use href="#H" x="496" y="683"/><use href="#T" x="504" y="683"/><use href="#KL" x="513" y="683"/><use href="#W" x="523" y="683"/><use href="#AL" x="533" y="683"/><use href="#T" x="541" y="683"/><use href="#KL" x="549" y="683"/><use href="#W" x="558" y="683"/><use href="#J" x="568" y="683"/><use href="#V" x="454" y="694"/><use href="#P" x="461" y="694"/><use href="#G" x="469" y="694"/><use href="#TE" x="479" y="694"/><use href="#T" x="488" y="694"/><use href="#H" x="496" y="694"/><use href="#W" x="523" y="694"/><use href="#AL" x="533" y="694"/><use href="#T" x="541" y="694"/><use href="#J" x="568" y="694"/><text class="gl" x="454" y="678">V</text><text class="gl" x="461" y="678">P</text><text class="gl" x="469" y="678">G</text><text class="gl" x="479" y="678">Ap</text><text class="gl" x="488" y="678">TL</text><text class="gl" x="496" y="678">H</text><text class="gl" x="504" y="678">T</text><text class="gl" x="513" y="678">KL</text><text class="gl" x="523" y="678">WL</text><text class="gl" x="533" y="678">A</text><text class="gl" x="541" y="678">TL</text><text class="gl" x="549" y="678">K</text><text class="gl" x="558" y="678">W</text><text class="gl" x="568" y="678">J</text></g>

<g id="pills">
<g id="p1"><rect class="pl" x="380" y="98" width="47" height="11" rx="4"/><text class="pt" x="403" y="106">duplication</text></g>
<g id="p2"><rect class="pl" x="421" y="121" width="47" height="11" rx="4"/><text class="pt" x="444" y="129">duplication</text></g>
<g id="p3"><rect class="pl" x="463" y="155" width="47" height="11" rx="4"/><text class="pt" x="486" y="163">duplication</text></g>
<g id="p4"><rect class="pl" x="504" y="193" width="47" height="11" rx="4"/><text class="pt" x="527" y="201">duplication</text></g>
<g id="p5"><rect class="pl" x="546" y="234" width="47" height="11" rx="4"/><text class="pt" x="569" y="242">duplication</text></g>
<g id="p6"><rect class="pl" x="587" y="275" width="47" height="11" rx="4"/><text class="pt" x="610" y="283">duplication</text></g>
<g id="p7"><rect class="pl" x="628" y="316" width="48" height="11" rx="4"/><text class="pt" x="652" y="324">duplication</text></g>
<g id="p8"><rect class="pl" x="675" y="358" width="38" height="11" rx="4"/><text class="pt" x="694" y="366">deletion</text></g>
<g id="p9"><rect class="pl" x="713" y="392" width="42" height="22" rx="4"/><text class="pt" x="734" y="401">block</text><text class="pt" x="734" y="410">duplication</text></g>
<g id="p10"><rect class="pl" x="756" y="445" width="47" height="11" rx="4"/><text class="pt" x="779" y="453">duplication</text></g>
<g id="p11"><rect class="pl" x="752" y="489" width="38" height="11" rx="4"/><text class="pt" x="771" y="497">deletion</text></g>
<g id="p12"><rect class="pl" x="797" y="489" width="47" height="11" rx="4"/><text class="pt" x="820" y="497">duplication</text></g>
<g id="p13"><rect class="pl" x="838" y="530" width="47" height="11" rx="4"/><text class="pt" x="861" y="538">duplication</text></g>
<g id="p14"><rect class="pl" x="883" y="571" width="39" height="11" rx="4"/><text class="pt" x="902" y="579">deletion</text></g>
<g id="p15"><rect class="pl" x="913" y="611" width="59" height="32" rx="4"/><text class="pt" x="942" y="620">new haplotypes</text><text class="pt" x="942" y="630">created via</text><text class="pt" x="942" y="639">recombination</text></g>
<g id="p16"><rect class="pl" x="716" y="658" width="38" height="10" rx="4"/><text class="pt" x="735" y="666">deletion</text></g>
<g id="p17"><rect class="pl" x="654" y="717" width="73" height="10" rx="4"/><text class="pt" x="690" y="725">loss of haplotype l</text></g>
<g id="p18"><rect class="pl" x="808" y="706" width="71" height="21" rx="4"/><text class="pt" x="844" y="715">loss of haplotypes</text><text class="pt" x="844" y="724">p and n</text></g>
<g id="p19"><rect class="pl" x="988" y="706" width="71" height="21" rx="4"/><text class="pt" x="1024" y="715">loss of haplotype l</text><text class="pt" x="1024" y="724">deletions</text></g>
<g id="p20"><rect class="pl" x="446" y="427" width="91" height="11" rx="4"/><text class="pt" x="491" y="435">duplication and inversion</text></g>
<g id="p21"><rect class="pl" x="362" y="513" width="49" height="11" rx="4"/><text class="pt" x="386" y="521">duplications</text></g>
<g id="p22"><rect class="pl" x="272" y="605" width="37" height="12" rx="4"/><text class="pt" x="290" y="613">deletion</text></g>
<g id="p23"><rect class="pl" x="489" y="556" width="41" height="11" rx="4"/><text class="pt" x="509" y="564">deletions</text></g>
<g id="p24"><rect class="pl" x="583" y="577" width="48" height="11" rx="4"/><text class="pt" x="607" y="585">duplication</text></g>
<g id="p25"><rect class="pl" x="509" y="648" width="42" height="11" rx="4"/><text class="pt" x="530" y="656">deletions</text></g>
<g id="p26"><rect class="pl" x="194" y="695" width="67" height="33" rx="5"/><text class="pt" x="227" y="706">species-specific</text><text class="pt" x="227" y="714">block duplications</text><text class="pt" x="227" y="723">&amp; deletions</text></g>
</g>

<g id="species">
<text class="sec" x="178" y="750" textLength="147" lengthAdjust="spacingAndGlyphs">OLD-WORLD MONKEYS</text>
<text class="sec" x="323" y="750" textLength="51" lengthAdjust="spacingAndGlyphs">GIBBON</text>
<text class="sec" x="463" y="750" textLength="84" lengthAdjust="spacingAndGlyphs">ORANGUTAN</text>
<text class="sec" x="654" y="750" textLength="56" lengthAdjust="spacingAndGlyphs">GORILLA</text>
<text class="sec" x="840" y="750" textLength="86" lengthAdjust="spacingAndGlyphs">CHIMPANZEE</text>
<text class="sec" x="1012" y="750" textLength="50" lengthAdjust="spacingAndGlyphs">HUMAN</text>
</g>

<g id="owm-rows">
<text class="rl" x="109" y="761">block 1</text><text class="rl" x="135" y="761">block 2</text><text class="rl" x="162" y="761">block 2</text><text class="gl" x="178" y="760">A W</text><text class="rl" x="195" y="761">block 3</text><text class="rl" x="226" y="761">block 3</text><text class="gl" x="245" y="760">A W J</text>
<path class="bar" d="M101 763H118M127 763H146M152 763H172M184 763H202M215 763H237"/>
<use href="#owm" y="768"/><use href="#owm" y="777"/><use href="#owm" y="787"/><use href="#owm" y="796"/><use href="#owm" y="805"/><use href="#owm" y="823"/>
<path d="M178 812V819" stroke="#444" stroke-dasharray="1.200 1.600" fill="none" stroke-width="1.200"/>
</g>
<g id="gibbon"><path class="ln" d="M298 765H347"/><use href="#B" x="305" y="765"/><use href="#W" x="329" y="765"/><use href="#J" x="339" y="765"/><text class="gl" x="305" y="760">A</text><text class="gl" x="329" y="760">W</text><text class="gl" x="339" y="760">J</text><rect class="pl" x="272" y="775" width="102" height="27" rx="4"/><text class="pt2" x="323" y="786">Sequencing of more gibbon</text><text class="pt2" x="323" y="795">haplotypes is needed.</text></g>
<g id="orangutan"><path class="ln" d="M416 765H510"/><use href="#V" x="420" y="765"/><use href="#P" x="427" y="765"/><use href="#G" x="436" y="765"/><use href="#TE" x="446" y="765"/><use href="#T" x="455" y="765"/><use href="#H" x="464" y="765"/><use href="#W" x="474" y="765"/><use href="#AL" x="484" y="765"/><use href="#T" x="493" y="765"/><use href="#J" x="502" y="765"/><text class="gl" x="420" y="760">V</text><text class="gl" x="427" y="760">P</text><text class="gl" x="436" y="760">G</text><text class="gl" x="446" y="760">Ap</text><text class="gl" x="455" y="760">TL</text><text class="gl" x="464" y="760">H</text><text class="gl" x="474" y="760">WL</text><text class="gl" x="484" y="760">A</text><text class="gl" x="493" y="760">TL</text><text class="gl" x="502" y="760">J</text><rect class="pl" x="407" y="776" width="111" height="27" rx="4"/><text class="pt2" x="463" y="787">Sequencing of more orangutan</text><text class="pt2" x="463" y="796">haplotypes is needed.</text></g>
<g id="gorilla"><text class="rl" x="581" y="767">l.1</text><path class="ln" d="M586 765H730"/><use href="#V" x="593" y="765"/><use href="#P" x="600" y="765"/><use href="#G" x="608" y="765"/><use href="#H" x="617" y="765"/><use href="#T" x="626" y="765"/><use href="#KL" x="633" y="765"/><use href="#W" x="642" y="765"/><use href="#AL" x="653" y="765"/><use href="#T" x="666" y="765"/><use href="#J" x="722" y="765"/><text class="gl" x="593" y="760">V</text><text class="gl" x="600" y="760">P</text><text class="gl" x="608" y="760">G</text><text class="gl" x="617" y="760">H</text><text class="gl" x="626" y="760">T</text><text class="gl" x="633" y="760">KL</text><text class="gl" x="642" y="760">WL</text><text class="gl" x="653" y="760">OKO</text><text class="gl" x="666" y="760">TL</text><text class="gl" x="722" y="760">J</text><rect class="pl" x="560" y="772" width="189" height="36" rx="4"/><text class="pt2" x="654" y="785">Both the reference genome and separately-sequenced</text><text class="pt2" x="654" y="794">gorilla MHC carry haplotype l.1. The n haplotype is</text><text class="pt2" x="654" y="803">presumed to exist but has not yet been sequenced.</text>
<text class="rl" x="580" y="828">n?</text><path class="ln" d="M586 826H730"/><use href="#V" x="593" y="826"/><use href="#P" x="600" y="826"/><use href="#G" x="608" y="826"/><use href="#H" x="617" y="826"/><use href="#T" x="626" y="826"/><use href="#KL" x="669" y="826"/><use href="#U" x="677" y="826"/><use href="#A3" x="685" y="826"/><use href="#W" x="694" y="826"/><use href="#Y" x="703" y="826"/><use href="#OL" x="713" y="826"/><use href="#J" x="722" y="826"/><text class="gl" x="593" y="820">V</text><text class="gl" x="600" y="820">P</text><text class="gl" x="608" y="820">G</text><text class="gl" x="617" y="820">H</text><text class="gl" x="626" y="820">T</text><text class="gl" x="669" y="820">K</text><text class="gl" x="677" y="820">U</text><text class="gl" x="685" y="820">A</text><text class="gl" x="694" y="820">W</text><text class="gl" x="703" y="820">Y</text><text class="gl" x="713" y="820">OLI</text></g>
<g id="chimpanzee"><text class="rl" x="768" y="767">l</text><path class="ln" d="M772 765H915"/><use href="#V" x="777" y="765"/><use href="#P" x="784" y="765"/><use href="#G" x="792" y="765"/><use href="#H" x="802" y="765"/><use href="#T" x="809" y="765"/><use href="#KL" x="817" y="765"/><use href="#W" x="827" y="765"/><use href="#AL" x="837" y="765"/><use href="#T" x="844" y="765"/><use href="#KL" x="853" y="765"/><use href="#U" x="861" y="765"/><use href="#A3" x="869" y="765"/><use href="#W" x="878" y="765"/><use href="#J" x="907" y="765"/><text class="gl" x="777" y="760">V</text><text class="gl" x="784" y="760">P</text><text class="gl" x="792" y="760">G</text><text class="gl" x="802" y="760">H</text><text class="gl" x="809" y="760">T</text><text class="gl" x="817" y="760">KL</text><text class="gl" x="827" y="760">WL</text><text class="gl" x="837" y="760">AL</text><text class="gl" x="844" y="760">TL</text><text class="gl" x="853" y="760">K</text><text class="gl" x="861" y="760">U</text><text class="gl" x="869" y="760">A</text><text class="gl" x="878" y="760">W</text><text class="gl" x="907" y="760">J</text>
<text class="rl" x="767" y="784">o</text><path class="ln" d="M772 782H915"/><use href="#V" x="777" y="782"/><use href="#P" x="784" y="782"/><use href="#G" x="792" y="782"/><use href="#H" x="802" y="782"/><use href="#T" x="809" y="782"/><use href="#KL" x="853" y="782"/><use href="#U" x="861" y="782"/><use href="#A3" x="869" y="782"/><use href="#W" x="878" y="782"/><use href="#J" x="907" y="782"/></g>
<g id="human">
<text class="rl" style="text-anchor:end" x="955" y="785">o/p (HLA-A)</text><path class="ln" d="M959 783H1101"/><use href="#V" x="964" y="783"/><use href="#P" x="971" y="783"/><use href="#G" x="979" y="783"/><use href="#H" x="988" y="783"/><use href="#T" x="997" y="783"/><use href="#KL" x="1041" y="783"/><use href="#U" x="1048" y="783"/><use href="#A3" x="1056" y="783"/><use href="#W" x="1064" y="783"/><use href="#J" x="1093" y="783"/><text class="gl" x="964" y="777">V</text><text class="gl" x="971" y="777">P</text><text class="gl" x="979" y="777">G</text><text class="gl" x="988" y="777">H</text><text class="gl" x="997" y="777">T</text><text class="gl" x="1041" y="777">K</text><text class="gl" x="1048" y="777">U</text><text class="gl" x="1056" y="777">A</text><text class="gl" x="1064" y="777">W</text><text class="gl" x="1093" y="777">J</text>
<text class="rl" style="text-anchor:end" x="955" y="797">o.2 (HLA-H/K/U del)</text><path class="ln" d="M959 795H1101"/><use href="#V" x="964" y="795"/><use href="#P" x="971" y="795"/><use href="#G" x="979" y="795"/><use href="#A3" x="1056" y="795"/><use href="#W" x="1064" y="795"/><use href="#J" x="1093" y="795"/>
<text class="rl" style="text-anchor:end" x="955" y="809">o.3 (HLA-W del)</text><path class="ln" d="M959 807H1101"/><use href="#V" x="964" y="807"/><use href="#P" x="971" y="807"/><use href="#G" x="979" y="807"/><use href="#H" x="988" y="807"/><use href="#T" x="997" y="807"/><use href="#KL" x="1041" y="807"/><use href="#U" x="1048" y="807"/><use href="#A3" x="1056" y="807"/><use href="#J" x="1093" y="807"/>
<text class="rl" style="text-anchor:end" x="955" y="828">n (HLA-Y ins)</text><path class="ln" d="M959 826H1101"/><use href="#V" x="964" y="826"/><use href="#P" x="971" y="826"/><use href="#G" x="979" y="826"/><use href="#H" x="988" y="826"/><use href="#T" x="997" y="826"/><use href="#KL" x="1041" y="826"/><use href="#U" x="1048" y="826"/><use href="#A3" x="1056" y="826"/><use href="#W" x="1064" y="826"/><use href="#Y" x="1073" y="826"/><use href="#OL" x="1083" y="826"/><use href="#J" x="1093" y="826"/><text class="gl" x="1073" y="820">Y</text><text class="gl" x="1083" y="820">OLI</text></g>

<g id="panel-lineages">
<rect class="pan" x="728" y="106" width="192" height="179" rx="8"/>
<text class="ttl" x="824" y="125" textLength="155" lengthAdjust="spacingAndGlyphs">MHC-A ALLELIC LINEAGES</text>
<path class="grid" d="M818 135V280M868 135V280M757 202H903M776 173H818M776 239H818"/>
<path d="M763 152V192M763 223V262M763 160H770M763 228H770" stroke="#bbb" stroke-width=".7" fill="none"/>
<text class="tbh" x="799" y="141">human</text><text class="tbh" x="843" y="141">chimpanzee</text><text class="tbh" x="885" y="141">gorilla</text>
<rect x="748" y="168" width="13" height="11" rx="2" fill="#bfe3e0"/><text class="tb" x="754.500" y="176" style="font-size:6px">A3</text>
<rect x="770" y="154" width="12" height="10" rx="2" fill="#bfe3e0"/><text class="tb" x="776" y="161" style="font-size:4.500px">A23</text>
<rect x="748" y="237" width="13" height="11" rx="2" fill="#bfe3e0"/><text class="tb" x="754.500" y="245" style="font-size:6px">A2</text>
<rect x="770" y="217" width="12" height="10" rx="2" fill="#bfe3e0"/><text class="tb" x="776" y="224" style="font-size:4.500px">A19</text>
<text class="tb" x="799" y="158">*23</text><text class="tb" x="799" y="167">*24</text><text class="tb" x="799" y="186">*01  *11</text><text class="tb" x="799" y="194">*03  *36</text>
<text class="tb" x="799" y="216">*29  *32</text><text class="tb" x="799" y="225">*30  *33</text><text class="tb" x="799" y="233">*31  *74</text><text class="tb" x="799" y="252">*02  *43</text><text class="tb" x="799" y="261">*25  *66</text><text class="tb" x="799" y="269">*26  *68</text><text class="tb" x="799" y="277">*34  *69</text>
<text class="tb" x="843" y="176">all</text><text class="tb" x="886" y="176">lost</text><text class="tb" x="843" y="242">lost</text><text class="tb" x="885" y="242">all</text>
</g>

<g id="panel-key">
<rect class="pan" x="931" y="106" width="181" height="179" rx="8"/>
<text class="ttl" x="1021" y="125" textLength="82" lengthAdjust="spacingAndGlyphs">SYMBOL KEY</text>
<rect x="941" y="190" width="7" height="8" fill="#e4e2e0"/><rect x="974" y="182" width="10" height="40" fill="#e4e2e0"/><rect x="1000" y="182" width="10" height="9" fill="#e4e2e0"/><rect x="1093" y="193" width="10" height="14" fill="#e4e2e0"/>
<path d="M945 161V187M1005 161V182M1097 169V190M979 243V222M1046 243V222" stroke="#666" stroke-width=".7" stroke-dasharray="1.500 1" fill="none"/>
<path class="ln" d="M950 194H1092M950 205H1092M950 217H1092"/>
<path class="arc" d="M1092 194c11 0 11 11 0 11"/>
<use href="#V" x="954" y="194"/><use href="#P" x="961" y="194"/><use href="#G" x="969" y="194"/><use href="#H" x="979" y="194"/><use href="#T" x="987" y="194"/><use href="#KL" x="995" y="194"/><use href="#W" x="1005" y="194"/><use href="#AL" x="1015" y="194"/><use href="#T" x="1023" y="194"/><use href="#KL" x="1031" y="194"/><use href="#U" x="1039" y="194"/><use href="#A3" x="1047" y="194"/><use href="#W" x="1056" y="194"/><use href="#J" x="1084" y="194"/>
<use href="#V" x="954" y="205"/><use href="#P" x="961" y="205"/><use href="#G" x="969" y="205"/><use href="#H" x="979" y="205"/><use href="#T" x="987" y="205"/><use href="#KL" x="995" y="205"/><use href="#W" x="1005" y="205"/><use href="#AL" x="1015" y="205"/><use href="#T" x="1023" y="205"/><use href="#J" x="1084" y="205"/>
<use href="#V" x="954" y="217"/><use href="#P" x="961" y="217"/><use href="#G" x="969" y="217"/><use href="#H" x="979" y="217"/><use href="#T" x="987" y="217"/><use href="#KL" x="1031" y="217"/><use href="#U" x="1039" y="217"/><use href="#A3" x="1047" y="217"/><use href="#W" x="1056" y="217"/><use href="#Y" x="1065" y="217"/><use href="#OL" x="1074" y="217"/><use href="#J" x="1084" y="217"/>
<text class="rl" x="945" y="196">l</text><text class="rl" x="944" y="207">l.1</text><text class="rl" x="945" y="219">n</text>
<text class="gl" x="954" y="189">V</text><text class="gl" x="961" y="189">P</text><text class="gl" x="969" y="189">G</text><text class="gl" x="979" y="189">H</text><text class="gl" x="987" y="189">T</text><text class="gl" x="995" y="189">KL</text><text class="gl" x="1005" y="189">WL</text><text class="gl" x="1023" y="189">TL</text><text class="gl" x="1031" y="189">K</text><text class="gl" x="1039" y="189">U</text><text class="gl" x="1047" y="189">A</text><text class="gl" x="1056" y="189">W</text><text class="gl" x="1084" y="189">J</text><text class="gl" x="1014" y="214">OKO</text><text class="gl" x="1064" y="211">Y</text><text class="gl" x="1073" y="211">OLI</text>
<rect class="pl" x="938" y="138" width="40" height="23" rx="4"/><text class="pt2" x="958" y="148">haplotype</text><text class="pt2" x="958" y="156">name</text>
<rect class="pl" x="987" y="138" width="53" height="23" rx="4"/><text class="pt2" x="1013" y="148">gene</text><text class="pt2" x="1013" y="156">name/identity</text>
<rect class="pl" x="1049" y="138" width="56" height="31" rx="4"/><text class="pt2" x="1077" y="147">indicates</text><text class="pt2" x="1077" y="156">closely related</text><text class="pt2" x="1077" y="164">haplotypes</text>
<rect class="pl" x="946" y="244" width="52" height="32" rx="4"/><text class="pt2" x="972" y="254">evolutionarily</text><text class="pt2" x="972" y="263">equivalent</text><text class="pt2" x="972" y="271">genes</text>
<rect class="pl" x="1010" y="244" width="87" height="32" rx="4"/><text class="pt2" x="1053" y="254">specific allelic lineage(s)</text><text class="pt2" x="1053" y="263">of that gene</text><text class="pt2" x="1053" y="271">on that haplotype</text>
</g>

<g id="panel-tree">
<rect class="pan" x="931" y="295" width="181" height="260" rx="8"/>
<text class="ttl" x="1021" y="316" textLength="140" lengthAdjust="spacingAndGlyphs">GENE RELATIONSHIPS</text>
<g transform="translate(925,290) scale(.3333)"><path class="tr" d="M258 113H240V138H258M240 125H222M258 163H240V188H258M240 175H222M222 125V175M222 150H205M258 213H240V238H258M240 225H205M205 150V225M205 188H190M258 262H190M190 188V262M190 225H175M258 287H175M175 225V287M175 256H160M258 312H160M160 256V312M160 284H128M258 337H190V362H258M190 350H128M128 284V350M128 317H97M258 387H192V412H258M192 400H158M258 437H158M158 400V437M158 418H128M258 462H128M128 418V474H112M258 487H112M112 474V487M112 480H97M258 512H97M97 317V512M97 420H80M258 537H233V562H258M233 550H210M258 587H210M210 550V587M210 568H190M258 612H178M258 636H178M178 612V636M178 624H190M190 568V624M190 596H160M258 661H160V686H258M160 673H120M258 711H190V736H258M190 723H160M258 761H160M160 723V761M160 742H120M120 673V742M160 596V640H120M120 690H80M80 420V690M80 577H60"/><path d="M58 577L68 572V582z" fill="#444"/></g>
<g><rect x="1012" y="324.300" width="7.500" height="7.500" rx="1" fill="#a9dcdc"/><rect x="1012" y="332.600" width="7.500" height="7.500" rx="1" fill="#86aec0"/><rect x="1012" y="340.900" width="7.500" height="7.500" rx="1" fill="#6fa9b0"/><rect x="1012" y="349.200" width="7.500" height="7.500" rx="1" fill="#86c7cf"/><rect x="1012" y="357.500" width="7.500" height="7.500" rx="1" fill="#8cc9d6"/><rect x="1012" y="365.800" width="7.500" height="7.500" rx="1" fill="#0c6a85"/><rect x="1012" y="374.100" width="7.500" height="7.500" rx="1" fill="#0c1e4c"/><rect x="1012" y="382.400" width="7.500" height="7.500" rx="1" fill="#4f86ae"/><rect x="1012" y="390.700" width="7.500" height="7.500" rx="1" fill="#5d8eb0"/><rect x="1012" y="399" width="7.500" height="7.500" rx="1" fill="#44739b"/><rect x="1012" y="407.300" width="7.500" height="7.500" rx="1" fill="#1d7f93"/><rect x="1012" y="415.600" width="7.500" height="7.500" rx="1" fill="#e0d2cc"/><rect x="1012" y="423.900" width="7.500" height="7.500" rx="1" fill="#e0d2cc"/><rect x="1012" y="432.200" width="7.500" height="7.500" rx="1" fill="#e3d4ce"/><rect x="1012" y="440.500" width="7.500" height="7.500" rx="1" fill="#fbdcd3"/><rect x="1012" y="448.800" width="7.500" height="7.500" rx="1" fill="#f4d4cd"/><rect x="1012" y="457.100" width="7.500" height="7.500" rx="1" fill="#cf968d"/><rect x="1012" y="465.400" width="7.500" height="7.500" rx="1" fill="#f6a9b1"/><rect x="1012" y="473.700" width="7.500" height="7.500" rx="1" fill="#f0838a"/><rect x="1012" y="482" width="7.500" height="7.500" rx="1" fill="#ef7f84"/><rect x="1012" y="490.300" width="7.500" height="7.500" rx="1" fill="#c8707c"/><rect x="1012" y="498.600" width="7.500" height="7.500" rx="1" fill="#b98a74"/><rect x="1012" y="506.900" width="7.500" height="7.500" rx="1" fill="#e9c04f"/><rect x="1012" y="515.200" width="7.500" height="7.500" rx="1" fill="#ecc054"/><rect x="1012" y="523.500" width="7.500" height="7.500" rx="1" fill="#e19a77"/><rect x="1012" y="531.800" width="7.500" height="7.500" rx="1" fill="#e19a77"/><rect x="1012" y="540.100" width="7.500" height="7.500" rx="1" fill="#e19a77"/></g>
<g><text class="lg" x="1023" y="330.500">A (African apes)</text><text class="lg" x="1023" y="338.800">U</text><text class="lg" x="1023" y="347.100">Y</text><text class="lg" x="1023" y="355.400">AL/OKO</text><text class="lg" x="1023" y="363.700">A (orangutan)</text><text class="lg" x="1023" y="372">Ap</text><text class="lg" x="1023" y="380.300">H</text><text class="lg" x="1023" y="388.600">A (gibbon)</text><text class="lg" x="1023" y="396.900">A_pseudo (OWM)</text><text class="lg" x="1023" y="405.200">A1 - An (OWM)</text><text class="lg" x="1023" y="413.500">AG1 - AGn</text><text class="lg" x="1023" y="421.800">KL</text><text class="lg" x="1023" y="430.100">K (apes)</text><text class="lg" x="1023" y="438.400">K (OWM)</text><text class="lg" x="1023" y="446.700">J</text><text class="lg" x="1023" y="455">G</text><text class="lg" x="1023" y="463.300">V</text><text class="lg" x="1023" y="471.600">OLI</text><text class="lg" x="1023" y="479.900">TL</text><text class="lg" x="1023" y="488.200">T</text><text class="lg" x="1023" y="496.500">W*01:06/08/10 (OWM)</text><text class="lg" x="1023" y="504.800">W*01:01/02/11/12 (OWM)</text><text class="lg" x="1023" y="513.100">P</text><text class="lg" x="1023" y="521.400">W*01:05 (OWM)</text><text class="lg" x="1023" y="529.700">WL</text><text class="lg" x="1023" y="538">W (apes)</text><text class="lg" x="1023" y="546.300">W*01:07/09 (OWM)</text></g>
</g>
</svg>
